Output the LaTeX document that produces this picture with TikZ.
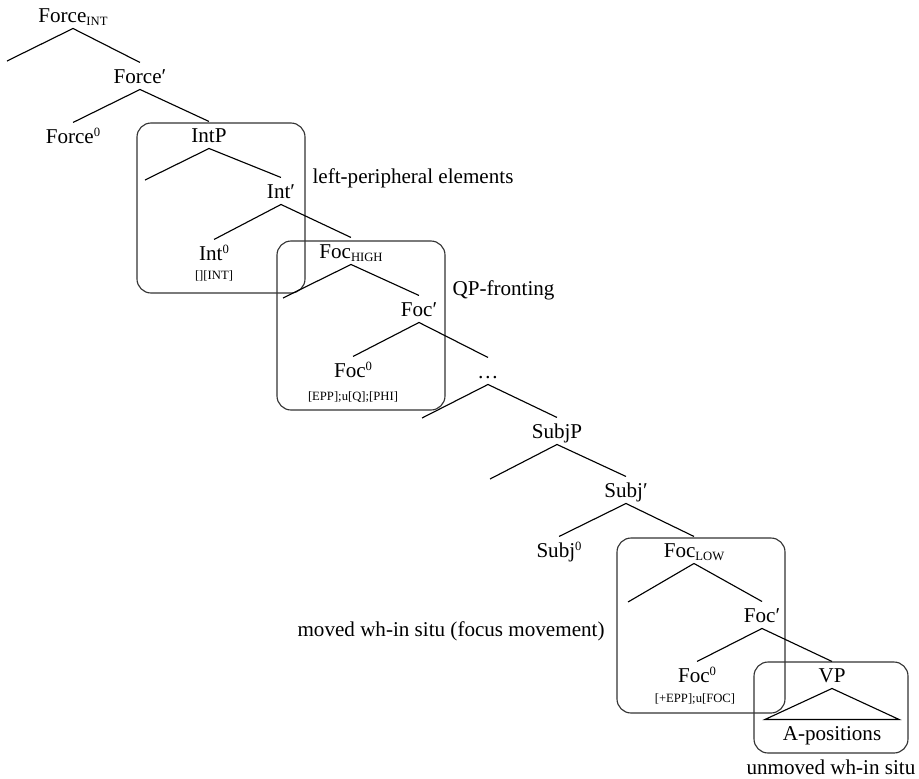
\documentclass[tikz,border=0pt]{standalone}
\usepackage{fontspec}
\setmainfont{Liberation Serif}
\usetikzlibrary{positioning, fit, calc}
\newcommand{\Lsub}[1]{\raisebox{-2.5pt}{\fontsize{9}{10}\selectfont #1}}
\newcommand{\Zero}{\raisebox{4.3pt}{\fontsize{9}{10}\selectfont 0}}
\tikzset{
    cat/.style={inner xsep=0pt, inner ysep=4.2pt, text height=10pt, text depth=0pt,
        anchor=base, font=\fontsize{15}{18}\selectfont},
    feat/.style={inner sep=0pt, anchor=base, font=\fontsize{9}{10}\selectfont},
    note/.style={inner sep=0pt, anchor=base west, font=\fontsize{15}{18}\selectfont},
    hlbox/.style={draw=black!80, rounded corners=10pt, inner sep=0pt},
}

\begin{document}
\begin{tikzpicture}[x=0.025cm, y=-0.025cm, line width=0.8pt]
    \useasboundingbox (0,0) rectangle (919,778);

    % highlighted regions
    \node[hlbox, fit={(137,123) (305,293)}] (intbox) {};
    \node[hlbox, fit={(277,241) (445,410)}] (highbox) {};
    \node[hlbox, fit={(617,538) (785,713)}] (lowbox) {};
    \node[hlbox, fit={(754,662) (908,753)}] (vpbox) {};

    \node[cat] (forceint) at (73,22) {Force\Lsub{INT}};
    \node[cat] (forcebar) at (140,83) {Force′};
    \node[cat] (forcehead) at (73,143) {Force\Zero};

    \node[cat] (intp) at (209,142) {IntP};
    \node[cat] (intbar) at (281,198) {Int′};
    \node[cat] (inthead) at (214,260) {Int\Zero};
    \node[feat] (intfeat) at (214,279) {[][INT]};

    \node[cat] (fochigh) at (351,258) {Foc\Lsub{HIGH}};
    \node[cat] (fochbar) at (419,316) {Foc′};
    \node[cat] (fochhead) at (353,377) {Foc\Zero};
    \node[feat] (fochfeat) at (353,400) {[EPP];u[Q];[PHI]};
    \node[cat] (dots) at (488,378) {…};

    \node[cat] (subjp) at (557,438) {SubjP};
    \node[cat] (subjbar) at (626,497) {Subj′};
    \node[cat] (subjhead) at (559,557) {Subj\Zero};

    \node[cat] (foclow) at (694,557) {Foc\Lsub{LOW}};
    \node[cat] (foclbar) at (762,622) {Foc′};
    \node[cat] (foclhead) at (697,682) {Foc\Zero};
    \node[feat] (foclfeat) at (695,702) {[+EPP];u[FOC]};

    \node[cat] (vp) at (832,682) {VP};
    \node[cat, minimum width=3.325cm] (apos) at (832,740) {A-positions};

    % empty specifiers
    \coordinate (s1) at (7,61);
    \coordinate (s2) at (145,180);
    \coordinate (s3) at (283,298);
    \coordinate (s4) at (422,418);
    \coordinate (s5) at (490,479);
    \coordinate (s6) at (628,602);

    \draw (forceint.south) edge (s1) edge (forcebar.north);
    \draw (forcebar.south) edge (forcehead.north) edge (intp.north);
    \draw (intp.south) edge (s2) edge (intbar.north);
    \draw (intbar.south) edge (inthead.north) edge (fochigh.north);
    \draw (fochigh.south) edge (s3) edge (fochbar.north);
    \draw (fochbar.south) edge (fochhead.north) edge (dots.north);
    \draw (dots.south) edge (s4) edge (subjp.north);
    \draw (subjp.south) edge (s5) edge (subjbar.north);
    \draw (subjbar.south) edge (subjhead.north) edge (foclow.north);
    \draw (foclow.south) edge (s6) edge (foclbar.north);
    \draw (foclbar.south) edge (foclhead.north) edge (vp.north);
    \draw (vp.south) -- (apos.north west) -- (apos.north east) -- cycle;

    \node[note] (leftper) at (312,183) {left-peripheral elements};
    \node[note] (qpfront) at (452,295) {QP-fronting};
    \node[note] (movedwh) at (297,636) {moved wh-in situ (focus movement)};
    \node[below=0.15cm of vpbox, inner sep=0pt, font=\fontsize{15}{18}\selectfont] (unmovedwh) {unmoved wh-in situ};
\end{tikzpicture}
\end{document}
